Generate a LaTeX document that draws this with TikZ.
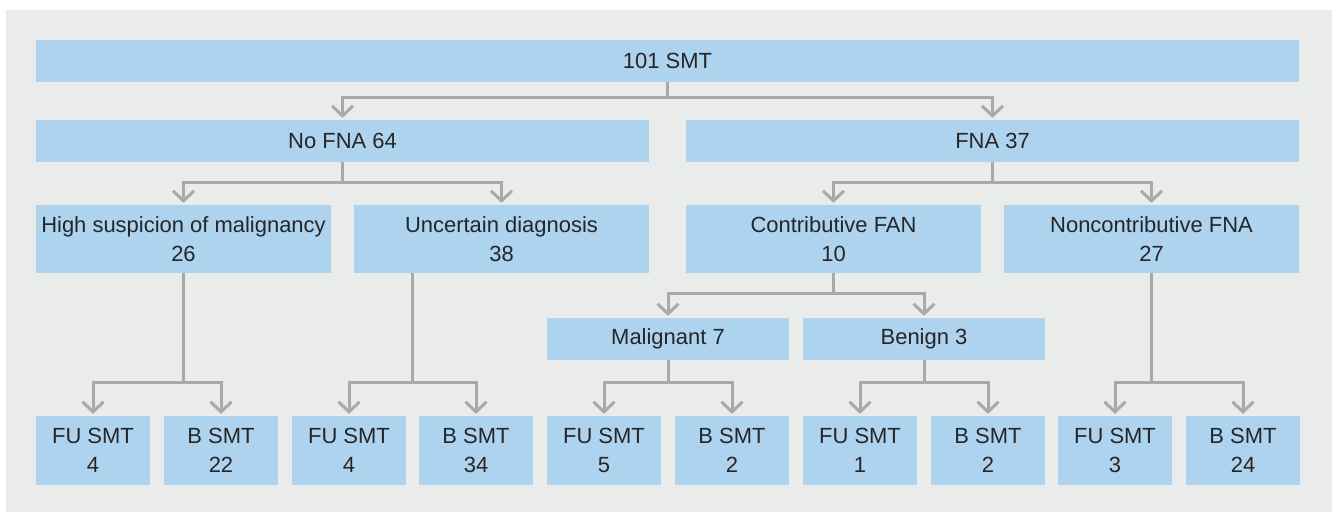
\documentclass[tikz,border=0pt]{standalone}
\usepackage{fontspec}
\setmainfont{Liberation Sans}
\usetikzlibrary{arrows.meta,calc}
\definecolor{bggrey}{HTML}{EAEBEB}
\definecolor{boxblue}{HTML}{ADD3EF}
\definecolor{linegrey}{HTML}{A9A9A9}
\definecolor{txt}{HTML}{262626}
\begin{document}
\begin{tikzpicture}[x=0.02cm,y=-0.02cm,>={Straight Barb[length=0.2cm,width=0.42cm]},
		box/.style={fill=boxblue, text=txt, inner sep=0, align=center, font=\fontsize{12.5}{16.5}\selectfont},
		wide/.style={box, minimum width=25.26cm, minimum height=0.84cm},
		half/.style={box, minimum width=12.26cm, minimum height=0.84cm},
		mid/.style={box, minimum width=5.9cm, minimum height=1.36cm},
		small/.style={box, minimum width=4.84cm, minimum height=0.84cm},
		leaf/.style={box, minimum width=2.28cm, minimum height=1.38cm},
		conn/.style={draw=linegrey, line width=0.06cm, shorten >=1pt}]
		\useasboundingbox (0,0) rectangle (1332,512);
		\fill[bggrey] (6,10) rectangle (1332,512);

		% boxes
		\node[wide] (smt) at (667.5,61) {101 SMT};
		\node[half] (nofna) at (342.5,141) {No FNA 64};
		\node[half] (fna) at (992.5,141) {FNA 37};
		\node[mid] (high) at (183.5,239) {High suspicion of malignancy\\26};
		\node[mid] (unc) at (501.5,239) {Uncertain diagnosis\\38};
		\node[mid] (contr) at (833.5,239) {Contributive FAN\\10};
		\node[mid] (nonc) at (1151.5,239) {Noncontributive FNA\\27};
		\node[small] (mal) at (668,339) {Malignant 7};
		\node[small] (ben) at (924,339) {Benign 3};
		\foreach \n/\x/\t in {1/93/FU SMT\\4, 2/221/B SMT\\22, 3/349/FU SMT\\4, 4/476/B SMT\\34, 5/604/FU SMT\\5, 6/732/B SMT\\2, 7/860/FU SMT\\1, 8/988/B SMT\\2, 9/1115/FU SMT\\3, 10/1243/B SMT\\24}
			\node[leaf] (l\n) at (\x,450.5) {\t};

		% connectors
		\draw[conn,->] (smt.south) -- ++(0,15) -| (nofna.north); \draw[conn,->] (smt.south) -- ++(0,15) -| (fna.north);
		\draw[conn,->] (nofna.south) -- ++(0,20) -| (high.north); \draw[conn,->] (nofna.south) -- ++(0,20) -| (unc.north);
		\draw[conn,->] (fna.south) -- ++(0,20) -| (contr.north); \draw[conn,->] (fna.south) -- ++(0,20) -| (nonc.north);
		\draw[conn,->] (contr.south) -- ++(0,20) -| (mal.north); \draw[conn,->] (contr.south) -- ++(0,20) -| (ben.north);

		\coordinate (ujoin) at ($(l3.north)!0.5!(l4.north)$);
		\draw[conn,->] (high.south) -- ++(0,109) -| (l1.north); \draw[conn,->] (high.south) -- ++(0,109) -| (l2.north);
		\draw[conn,->] (unc.south -| ujoin) -- ++(0,109) -| (l3.north); \draw[conn,->] (unc.south -| ujoin) -- ++(0,109) -| (l4.north);
		\draw[conn,->] (mal.south) -- ++(0,22) -| (l5.north); \draw[conn,->] (mal.south) -- ++(0,22) -| (l6.north);
		\draw[conn,->] (ben.south) -- ++(0,22) -| (l7.north); \draw[conn,->] (ben.south) -- ++(0,22) -| (l8.north);
		\draw[conn,->] (nonc.south) -- ++(0,109) -| (l9.north); \draw[conn,->] (nonc.south) -- ++(0,109) -| (l10.north);
	\end{tikzpicture}
\end{document}
